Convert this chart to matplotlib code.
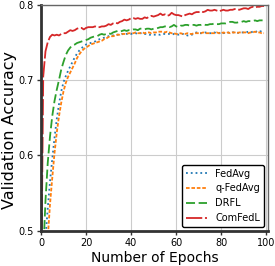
import numpy as np
import matplotlib
matplotlib.use('Agg')
import matplotlib.pyplot as plt

# validation accuracy per epoch
epochs = np.arange(0, 100)

fedavg = [0.33, 0.42, 0.49, 0.53, 0.565, 0.595, 0.623, 0.648, 0.668, 0.685,
          0.697, 0.705, 0.712, 0.718, 0.724, 0.730, 0.735, 0.739, 0.742, 0.745,
          0.747, 0.748, 0.749, 0.750, 0.751, 0.753, 0.754, 0.755, 0.756, 0.757,
          0.758, 0.759, 0.759, 0.760, 0.760, 0.760, 0.761, 0.760, 0.761, 0.762,
          0.761, 0.762, 0.762, 0.761, 0.762, 0.762, 0.761, 0.761, 0.760, 0.760,
          0.760, 0.760, 0.760, 0.760, 0.761, 0.761, 0.761, 0.761, 0.760, 0.761,
          0.761, 0.760, 0.761, 0.761, 0.760, 0.759, 0.759, 0.760, 0.762, 0.763,
          0.762, 0.762, 0.762, 0.763, 0.762, 0.762, 0.762, 0.763, 0.762, 0.762,
          0.763, 0.762, 0.763, 0.763, 0.762, 0.763, 0.763, 0.763, 0.762, 0.763,
          0.763, 0.763, 0.764, 0.763, 0.764, 0.763, 0.765, 0.764, 0.765, 0.764]

qfedavg = [0.30, 0.38, 0.44, 0.49, 0.535, 0.570, 0.603, 0.630, 0.652, 0.670,
           0.685, 0.696, 0.704, 0.710, 0.716, 0.722, 0.729, 0.734, 0.738, 0.741,
           0.743, 0.745, 0.747, 0.748, 0.749, 0.750, 0.751, 0.752, 0.754, 0.755,
           0.757, 0.758, 0.758, 0.759, 0.760, 0.760, 0.761, 0.761, 0.761, 0.762,
           0.762, 0.762, 0.763, 0.762, 0.762, 0.763, 0.762, 0.763, 0.763, 0.762,
           0.763, 0.763, 0.764, 0.764, 0.764, 0.763, 0.764, 0.763, 0.762, 0.762,
           0.761, 0.761, 0.762, 0.761, 0.761, 0.762, 0.761, 0.761, 0.762, 0.762,
           0.762, 0.762, 0.763, 0.762, 0.762, 0.762, 0.762, 0.762, 0.763, 0.762,
           0.762, 0.763, 0.762, 0.763, 0.762, 0.763, 0.763, 0.762, 0.763, 0.763,
           0.763, 0.763, 0.762, 0.763, 0.763, 0.764, 0.763, 0.763, 0.762, 0.762]

drfl = [0.35, 0.47, 0.54, 0.59, 0.625, 0.652, 0.672, 0.687, 0.700, 0.714,
        0.724, 0.733, 0.739, 0.743, 0.746, 0.747, 0.749, 0.750, 0.751, 0.752,
        0.753, 0.754, 0.756, 0.757, 0.758, 0.758, 0.760, 0.761, 0.760, 0.761,
        0.762, 0.761, 0.763, 0.764, 0.765, 0.764, 0.765, 0.766, 0.765, 0.766,
        0.766, 0.767, 0.767, 0.766, 0.768, 0.768, 0.767, 0.768, 0.768, 0.767,
        0.768, 0.768, 0.769, 0.770, 0.770, 0.771, 0.771, 0.770, 0.771, 0.773,
        0.771, 0.770, 0.772, 0.772, 0.773, 0.773, 0.772, 0.773, 0.773, 0.772,
        0.773, 0.773, 0.774, 0.773, 0.773, 0.774, 0.774, 0.775, 0.774, 0.774,
        0.775, 0.775, 0.775, 0.776, 0.777, 0.777, 0.776, 0.776, 0.777, 0.777,
        0.778, 0.777, 0.778, 0.778, 0.778, 0.779, 0.778, 0.779, 0.779, 0.779]

comfedl = [0.40, 0.705, 0.738, 0.750, 0.757, 0.760, 0.759, 0.760, 0.759, 0.761,
           0.762, 0.762, 0.764, 0.766, 0.765, 0.766, 0.768, 0.769, 0.769, 0.767,
           0.769, 0.770, 0.770, 0.770, 0.771, 0.770, 0.770, 0.771, 0.771, 0.772,
           0.774, 0.773, 0.775, 0.776, 0.775, 0.777, 0.778, 0.780, 0.779, 0.780,
           0.782, 0.782, 0.781, 0.782, 0.781, 0.781, 0.783, 0.782, 0.784, 0.785,
           0.784, 0.785, 0.786, 0.788, 0.786, 0.787, 0.785, 0.786, 0.789, 0.787,
           0.786, 0.786, 0.785, 0.784, 0.786, 0.787, 0.788, 0.787, 0.789, 0.790,
           0.790, 0.791, 0.790, 0.791, 0.793, 0.792, 0.792, 0.793, 0.792, 0.791,
           0.792, 0.793, 0.792, 0.792, 0.793, 0.793, 0.794, 0.794, 0.793, 0.794,
           0.795, 0.795, 0.794, 0.796, 0.797, 0.796, 0.797, 0.797, 0.798, 0.798]

fig = plt.figure(figsize=(2.75, 2.66), dpi=100)
ax = fig.add_axes([0.149, 0.132, 0.825, 0.851])

ax.plot(epochs, fedavg, color='tab:blue', ls=':', lw=1.3, label='FedAvg')
ax.plot(epochs, qfedavg, color='tab:orange', ls=(0, (2, 1)), lw=1.3, label='q-FedAvg')
ax.plot(epochs, drfl, color='tab:green', ls=(0, (5, 2)), lw=1.3, label='DRFL')
ax.plot(epochs, comfedl, color='tab:red', ls=(0, (9, 1.5)), lw=1.3, label='ComFedL')

ax.set_xlim(0, 100.7)
ax.set_ylim(0.5, 0.8)
ax.set_xticks([0, 20, 40, 60, 80, 100])
ax.set_yticks([0.5, 0.6, 0.7, 0.8])
ax.grid(True, color='#cccccc', lw=0.8)
ax.tick_params(labelsize=7, length=3, width=1, color='#333333', pad=2)

for s in ['left', 'bottom']:
    ax.spines[s].set_linewidth(2)
    ax.spines[s].set_color('#333333')
for s in ['top', 'right']:
    ax.spines[s].set_linewidth(1)
    ax.spines[s].set_color('#666666')

ax.set_xlabel('Number of Epochs', fontsize=10, labelpad=2)
ax.set_ylabel('Validation Accuracy', fontsize=11.5)
ax.yaxis.set_label_coords(-0.105, 0.446)
leg = ax.legend(loc='lower right', fontsize=7, handlelength=2.2, framealpha=1,
                borderaxespad=0.4)
leg.get_frame().set_edgecolor('black')

fig.savefig('out.png', dpi=100)
